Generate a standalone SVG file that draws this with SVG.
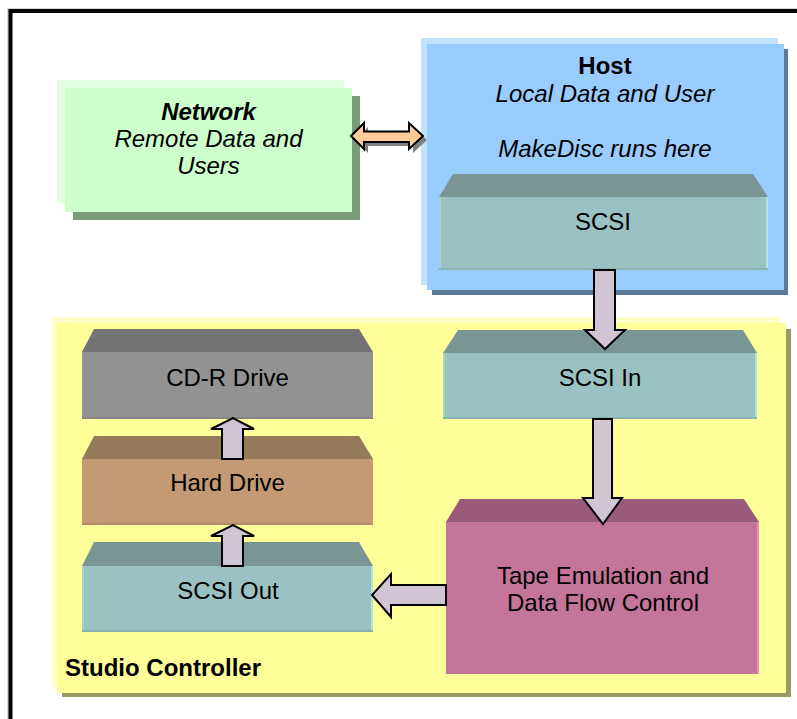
<svg xmlns="http://www.w3.org/2000/svg" width="797" height="719" viewBox="0 0 797 719">
<defs>
<style>
text{font-family:"Liberation Sans",Arial,sans-serif;font-size:24px;fill:#000;text-anchor:middle}
.b{font-weight:bold}
.i{font-style:italic}
.arrow{fill:#d1c5d5;stroke:#000;stroke-width:2;stroke-linejoin:miter}
</style>
</defs>
<rect width="797" height="719" fill="#fff"/>
<!-- outer frame -->
<rect x="8" y="9" width="800" height="720" fill="none" stroke="#b0b0b0" stroke-width="1"/>
<rect x="10.5" y="11" width="800" height="720" fill="none" stroke="#000" stroke-width="4"/>

<g id="network">
<rect x="73" y="96" width="287" height="124" fill="#7a9a7a"/>
<rect x="57" y="80" width="287" height="123" fill="#e2ffe2"/>
<rect x="65" y="88" width="287" height="124" fill="#ccffcc"/>
<text x="208.5" y="120" class="b i">Network</text>
<text x="208.5" y="147" class="i">Remote Data and</text>
<text x="208.5" y="174" class="i">Users</text>
</g>

<g id="host">
<rect x="432" y="49" width="356" height="246" fill="#5a7a9a"/>
<rect x="421" y="38" width="357" height="247" fill="#c2e2ff"/>
<rect x="427" y="44" width="357" height="246" fill="#99ccff"/>
<text x="605" y="74" class="b">Host</text>
<text x="605" y="102" class="i">Local Data and User</text>
<text x="605" y="157" class="i">MakeDisc runs here</text>
</g>

<g id="host-scsi">
<polygon points="453,174 753,174 768,197 439,197" fill="#799694"/>
<rect x="439" y="197" width="329" height="73" fill="#9bc2c2"/>
<rect x="439" y="197" width="2" height="73" fill="#a9d2cf"/>
<rect x="766" y="197" width="2" height="73" fill="#b5e3df"/>
<rect x="439" y="268" width="329" height="2" fill="#8ab0b0"/>
<text x="603" y="230">SCSI</text>
</g>

<g id="studio-controller">
<rect x="62" y="329" width="729" height="368" fill="#999966"/>
<rect x="52" y="317" width="728" height="370" fill="#ffffc8"/>
<rect x="57" y="323" width="729" height="370" fill="#ffff99"/>
<text x="65" y="676" class="b" style="text-anchor:start">Studio Controller</text>
</g>

<g id="cdr-drive">
<polygon points="94,329 359,329 373,352 82,352" fill="#737373"/>
<rect x="82" y="352" width="291" height="67" fill="#929292"/>
<rect x="82" y="417" width="291" height="2" fill="#858585"/>
<text x="227.5" y="386">CD-R Drive</text>
</g>

<g id="hard-drive">
<polygon points="94,436 359,436 373,459 82,459" fill="#957a5c"/>
<rect x="82" y="459" width="291" height="66" fill="#c49a74"/>
<rect x="82" y="523" width="291" height="2" fill="#b38b68"/>
<text x="227.5" y="491">Hard Drive</text>
</g>

<g id="scsi-out">
<polygon points="94,542 359,542 373,566 82,566" fill="#799694"/>
<rect x="82" y="566" width="291" height="66" fill="#9bc2c2"/>
<rect x="82" y="566" width="2" height="66" fill="#a9d2cf"/>
<rect x="371" y="566" width="2" height="66" fill="#b5e3df"/>
<rect x="82" y="630" width="291" height="2" fill="#8ab0b0"/>
<text x="228" y="599">SCSI Out</text>
</g>

<g id="scsi-in">
<polygon points="458,330 743,330 757,353 443,353" fill="#799694"/>
<rect x="443" y="353" width="314" height="66" fill="#9bc2c2"/>
<rect x="443" y="353" width="2" height="66" fill="#a9d2cf"/>
<rect x="755" y="353" width="2" height="66" fill="#b5e3df"/>
<rect x="443" y="417" width="314" height="2" fill="#8ab0b0"/>
<text x="600" y="386">SCSI In</text>
</g>

<g id="tape-emulation">
<polygon points="460,499 744,499 759,522 446,522" fill="#9a5a7a"/>
<rect x="446" y="522" width="313" height="152" fill="#c47599"/>
<rect x="757" y="522" width="2" height="152" fill="#e890b8"/>
<text x="603" y="584">Tape Emulation and</text>
<text x="603" y="611">Data Flow Control</text>
</g>

<g id="connectors">
<!-- network <-> host double arrow -->
<polygon points="355,140 368,127 368,136 413,136 413,127 427,140 413,153 413,146 368,146 368,153" fill="#808080"/>
<polygon points="351,136 364,123 364,131.5 409,131.5 409,123 423,136 409,149 409,142 364,142 364,149" fill="#ffcc99" stroke="#000" stroke-width="2"/>
<!-- host SCSI -> SCSI In -->
<polygon class="arrow" points="594,270 615,270 615,330 625,330 605,349 585,330 594,330"/>
<!-- SCSI In -> Tape -->
<polygon class="arrow" points="593,419 612,419 612,498 622,498 603,524 583,498 593,498"/>
<!-- Tape -> SCSI Out -->
<polygon class="arrow" points="446,585 446,605 391,605 391,617 372,595 391,574 391,585"/>
<!-- SCSI Out -> Hard Drive -->
<polygon class="arrow" points="222,566 243,566 243,536 254,536 233,525 211,536 222,536"/>
<!-- Hard Drive -> CD-R Drive -->
<polygon class="arrow" points="222,459 243,459 243,429 254,429 233,418 211,429 222,429"/>
</g>
</svg>
